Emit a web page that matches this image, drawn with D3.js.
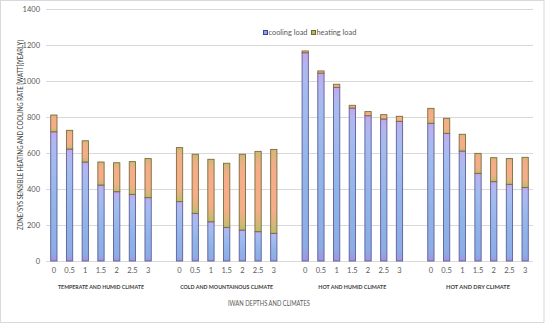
<!DOCTYPE html>
<html><head><meta charset="utf-8">
<script src="https://cdnjs.cloudflare.com/ajax/libs/d3/7.8.5/d3.min.js"></script>
<style>body{margin:0;background:#fff}svg{display:block}</style>
</head><body><svg id="c" width="550" height="327"></svg>
<script>
const depths = ["0","0.5","1","1.5","2","2.5","3"];
const climates = ["TEMPERATE AND HUMID CLIMATE","COLD AND MOUNTAINOUS CLIMATE","HOT AND HUMID CLIMATE","HOT AND DRY CLIMATE"];
const coolingTemperate = [718,622,550,422,385,370,352];
const coolingCold      = [330,265,218,187,172,163,154];
const coolingHotHumid  = [1157,1044,965,850,807,789,776];
const coolingHotDry    = [765,709,611,487,441,426,408];
const heatingTemperate = [93,104,118,128,161,182,217];
const heatingCold      = [300,328,347,356,421,446,466];
const heatingHotHumid  = [10,12,17,15,23,24,28];
const heatingHotDry    = [83,84,93,111,133,143,168];
const seriesNames = ["cooling load","heating load"];
const yTicks = [0,200,400,600,800,1000,1200,1400];
const yTitle = "ZONE/SYS SENSIBLE HEATING AND COOLING RATE [WATT](YEARLY)";
const xTitle = "IWAN DEPTHS AND CLIMATES";

const cooling = [coolingTemperate,coolingCold,coolingHotHumid,coolingHotDry];
const heating = [heatingTemperate,heatingCold,heatingHotHumid,heatingHotDry];

const svg = d3.select("#c");
const font = "Lato, 'Open Sans', sans-serif";

// chart border
svg.append("rect").attr("x",0.5).attr("y",0.5).attr("width",543.5).attr("height",322)
  .attr("fill","#fff").attr("stroke","#d9d9d9");

// gradients
const defs = svg.append("defs");
const gC = defs.append("linearGradient").attr("id","gCool").attr("x1",0).attr("y1",0).attr("x2",0).attr("y2",1);
[[0,"#c6a4ec"],[0.06,"#b3b6f0"],[0.2,"#a4bcf0"],[0.6,"#90b4ea"],[0.93,"#8cace6"],[1,"#a393e0"]]
  .forEach(([o,c])=>gC.append("stop").attr("offset",o).attr("stop-color",c));
const gH = defs.append("linearGradient").attr("id","gHeat").attr("x1",0).attr("y1",0).attr("x2",0).attr("y2",1);
[[0,"#cdb777"],[0.1,"#e6b27f"],[0.22,"#f4ad88"],[0.72,"#f4ae88"],[0.88,"#d9b67a"],[1,"#b6be6e"]]
  .forEach(([o,c])=>gH.append("stop").attr("offset",o).attr("stop-color",c));

// band domain with spacers between groups
const keys = [];
climates.forEach((c,ci)=>{
  depths.forEach((d,di)=>keys.push(ci+"-"+di));
  if (ci < climates.length-1) keys.push("gap"+ci);
});
const x = d3.scaleBand().domain(keys).range([46,533]).paddingInner(0.6).paddingOuter(0.3);
const y = d3.scaleLinear().domain([0,1400]).range([261,9]);

// gridlines
svg.append("g").selectAll("line").data(yTicks).join("line")
  .attr("x1",46).attr("x2",533)
  .attr("y1",d=>Math.round(y(d))+0.5).attr("y2",d=>Math.round(y(d))+0.5)
  .attr("stroke","#d9d9d9").attr("stroke-width",1);

// y axis labels
const yAxis = d3.axisLeft(y).tickValues(yTicks).tickFormat(d3.format("d")).tickSize(0).tickPadding(0);
const ya = svg.append("g").attr("transform","translate(40,0)").call(yAxis);
ya.select(".domain").remove();
ya.selectAll("text").attr("font-family",font).attr("font-size",7.5).attr("fill","#595959");

// y title
svg.append("text").attr("transform","translate(21,135) rotate(-90)")
  .attr("text-anchor","middle").attr("dominant-baseline","middle")
  .attr("font-family",font).attr("font-size",6.6).attr("fill","#404040")
  .attr("textLength",190).attr("lengthAdjust","spacingAndGlyphs").text(yTitle);

// data rows
const rows = [];
climates.forEach((c,ci)=>depths.forEach((d,di)=>rows.push({key:ci+"-"+di, depth:d, cool:cooling[ci][di], heat:heating[ci][di]})));

const bars = svg.append("g");
bars.selectAll("rect.cool").data(rows).join("rect").attr("class","cool")
  .attr("x",d=>x(d.key)).attr("width",x.bandwidth())
  .attr("y",d=>y(d.cool)).attr("height",d=>y(0)-y(d.cool))
  .attr("fill","url(#gCool)").attr("stroke","#5d5f96").attr("stroke-width",0.9);
bars.selectAll("rect.heat").data(rows).join("rect").attr("class","heat")
  .attr("x",d=>x(d.key)).attr("width",x.bandwidth())
  .attr("y",d=>y(d.cool+d.heat)).attr("height",d=>y(d.cool)-y(d.cool+d.heat))
  .attr("fill","url(#gHeat)").attr("stroke","#7d6b3c").attr("stroke-width",0.9);

// x tick labels
svg.append("g").selectAll("text").data(rows).join("text")
  .attr("x",d=>x(d.key)+x.bandwidth()/2).attr("y",273)
  .attr("text-anchor","middle").attr("font-family",font).attr("font-size",7.5).attr("fill","#595959")
  .text(d=>d.depth);

// group labels
const glW = [86,93,68,64];
svg.append("g").selectAll("text").data(climates).join("text")
  .attr("x",(c,ci)=>(x(ci+"-0")+x(ci+"-6")+x.bandwidth())/2).attr("y",289)
  .attr("text-anchor","middle").attr("font-family",font).attr("font-size",6).attr("font-weight","bold")
  .attr("fill","#404040").attr("textLength",(c,ci)=>glW[ci]).attr("lengthAdjust","spacingAndGlyphs")
  .text(c=>c);

// x title
svg.append("text").attr("x",269).attr("y",306).attr("text-anchor","middle")
  .attr("font-family",font).attr("font-size",7).attr("fill","#595959")
  .attr("textLength",82).attr("lengthAdjust","spacingAndGlyphs").text(xTitle);

// legend
const leg = svg.append("g");
const legX = [263,311];
const legFill = ["#8fa3e2","#b8b866"];
const legStroke = ["#3c46a0","#6e6a30"];
seriesNames.forEach((s,i)=>{
  leg.append("rect").attr("x",legX[i]+0.5).attr("y",30.5).attr("width",4).attr("height",4)
    .attr("fill",legFill[i]).attr("stroke",legStroke[i]).attr("stroke-width",1);
  leg.append("text").attr("x",legX[i]+5.5).attr("y",35.2).attr("font-family",font).attr("font-size",7.4)
    .attr("fill","#595959").text(s);
});
</script></body></html>
